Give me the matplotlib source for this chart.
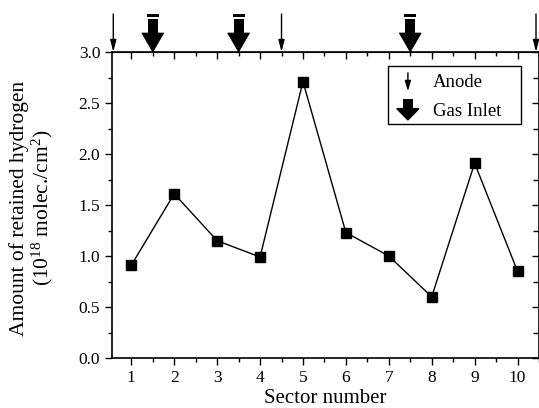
import matplotlib
matplotlib.use("Agg")
import matplotlib.pyplot as plt
from matplotlib.patches import Polygon, Rectangle
from matplotlib.ticker import MultipleLocator, NullFormatter
import matplotlib.transforms as mtransforms

plt.rcParams['font.family'] = ['Liberation Serif', 'DejaVu Serif']
plt.rcParams['mathtext.fontset'] = 'custom'
plt.rcParams['mathtext.rm'] = 'Liberation Serif'
plt.rcParams['mathtext.it'] = 'Liberation Serif:italic'

sectors = [1, 2, 3, 4, 5, 6, 7, 8, 9, 10]
hydrogen = [0.91, 1.61, 1.15, 0.99, 2.71, 1.23, 1.00, 0.60, 1.91, 0.85]
anode_pos = [0.58, 4.5, 10.43]
gas_inlet_pos = [1.5, 3.5, 7.5]

fig = plt.figure(figsize=(5.39, 4.08), dpi=100)
ax = fig.add_axes([112/539, 1-358/408, (539-112)/539, (358-52)/408])

ax.plot(sectors, hydrogen, color='black', lw=1.0, marker='s', ms=7,
        mfc='black', mec='black', zorder=3)

ax.set_xlim(0.55, 10.5)
ax.set_ylim(0, 3.0)
ax.set_xticks(sectors)
ax.xaxis.set_minor_locator(MultipleLocator(0.5))
ax.yaxis.set_major_locator(MultipleLocator(0.5))
ax.yaxis.set_minor_locator(MultipleLocator(0.25))
ax.set_yticklabels([f"{v:.1f}" for v in ax.get_yticks()])
ax.tick_params(axis='both', which='both', labelsize=12.5, width=1.0, direction='out')
ax.tick_params(axis='both', which='major', length=5)
ax.tick_params(axis='both', which='minor', length=3)
ax.tick_params(axis='x', pad=4)
for s in ax.spines.values():
    s.set_linewidth(1.2)

# mirrored inward ticks on top and right
top = ax.secondary_xaxis('top')
top.set_xticks(sectors)
top.xaxis.set_minor_locator(MultipleLocator(0.5))
top.tick_params(axis='x', which='both', direction='in', labeltop=False, width=1.0)
top.tick_params(axis='x', which='major', length=5)
top.tick_params(axis='x', which='minor', length=3)
top.xaxis.set_major_formatter(NullFormatter())
right = ax.secondary_yaxis('right')
right.yaxis.set_major_locator(MultipleLocator(0.5))
right.yaxis.set_minor_locator(MultipleLocator(0.25))
right.tick_params(axis='y', which='both', direction='in', labelright=False, width=1.0)
right.tick_params(axis='y', which='major', length=5)
right.tick_params(axis='y', which='minor', length=4)
right.yaxis.set_major_formatter(NullFormatter())

ax.set_xlabel('Sector number', fontsize=15)
ax.xaxis.set_label_coords(0.5, -0.102)
ax.set_ylabel('Amount of retained hydrogen\n(10$^{18}$ molec./cm$^2$)', fontsize=15.5,
              linespacing=1.05)
ax.yaxis.set_label_coords(-0.134, 0.49)

# arrows above the top axis
trans = mtransforms.blended_transform_factory(ax.transData, ax.transAxes)

def draw_thin(x):
    ax.annotate('', xy=(x, 1.0), xycoords=trans,
                xytext=(0, 38), textcoords='offset pixels',
                arrowprops=dict(arrowstyle='-|>,head_length=0.7,head_width=0.18',
                                color='black', lw=1.0, shrinkA=0, shrinkB=0),
                annotation_clip=False)

def draw_thick(x):
    xd = ax.transData.transform((x, 0))[0]
    ytop = ax.transAxes.transform((0, 1))[1]
    inv = fig.transFigure.inverted()
    def P(dx, dy):
        return inv.transform((xd + dx, ytop + dy))
    fig.add_artist(Polygon([P(-11, 19), P(11, 19), P(0, 0)], closed=True, fc='black',
                           ec='black', lw=0.5, transform=fig.transFigure))
    fig.add_artist(Polygon([P(-5, 18), P(5, 18), P(5, 33), P(-5, 33)], closed=True,
                           fc='black', ec='none', transform=fig.transFigure))
    fig.add_artist(Polygon([P(-6, 35), P(6, 35), P(6, 38), P(-6, 38)], closed=True,
                           fc='black', ec='none', transform=fig.transFigure))

for x in anode_pos:
    draw_thin(x)
for x in gas_inlet_pos:
    draw_thick(x)

# legend box
ax.add_patch(Rectangle((0.646, 0.765), 0.312, 0.189, transform=ax.transAxes,
                       fill=True, fc='white', ec='black', lw=1.0, zorder=5))
ax.text(0.752, 0.899, 'Anode', transform=ax.transAxes, fontsize=13.5, va='center', zorder=6)
ax.text(0.752, 0.806, 'Gas Inlet', transform=ax.transAxes, fontsize=13.5, va='center', zorder=6)
lx = 0.693
ax.annotate('', xy=(lx, 0.872), xycoords='axes fraction',
            xytext=(lx, 0.932), textcoords='axes fraction',
            arrowprops=dict(arrowstyle='-|>,head_length=0.6,head_width=0.18',
                            color='black', lw=1.0, shrinkA=0, shrinkB=0), zorder=6)
ax.add_patch(Polygon([(lx - 0.026, 0.815), (lx + 0.026, 0.815), (lx, 0.778)], closed=True,
                     fc='black', ec='black', transform=ax.transAxes, zorder=6))
ax.add_patch(Rectangle((lx - 0.012, 0.813), 0.024, 0.032, fc='black', ec='none',
                       transform=ax.transAxes, zorder=6))

fig.savefig('out.png', dpi=100)
